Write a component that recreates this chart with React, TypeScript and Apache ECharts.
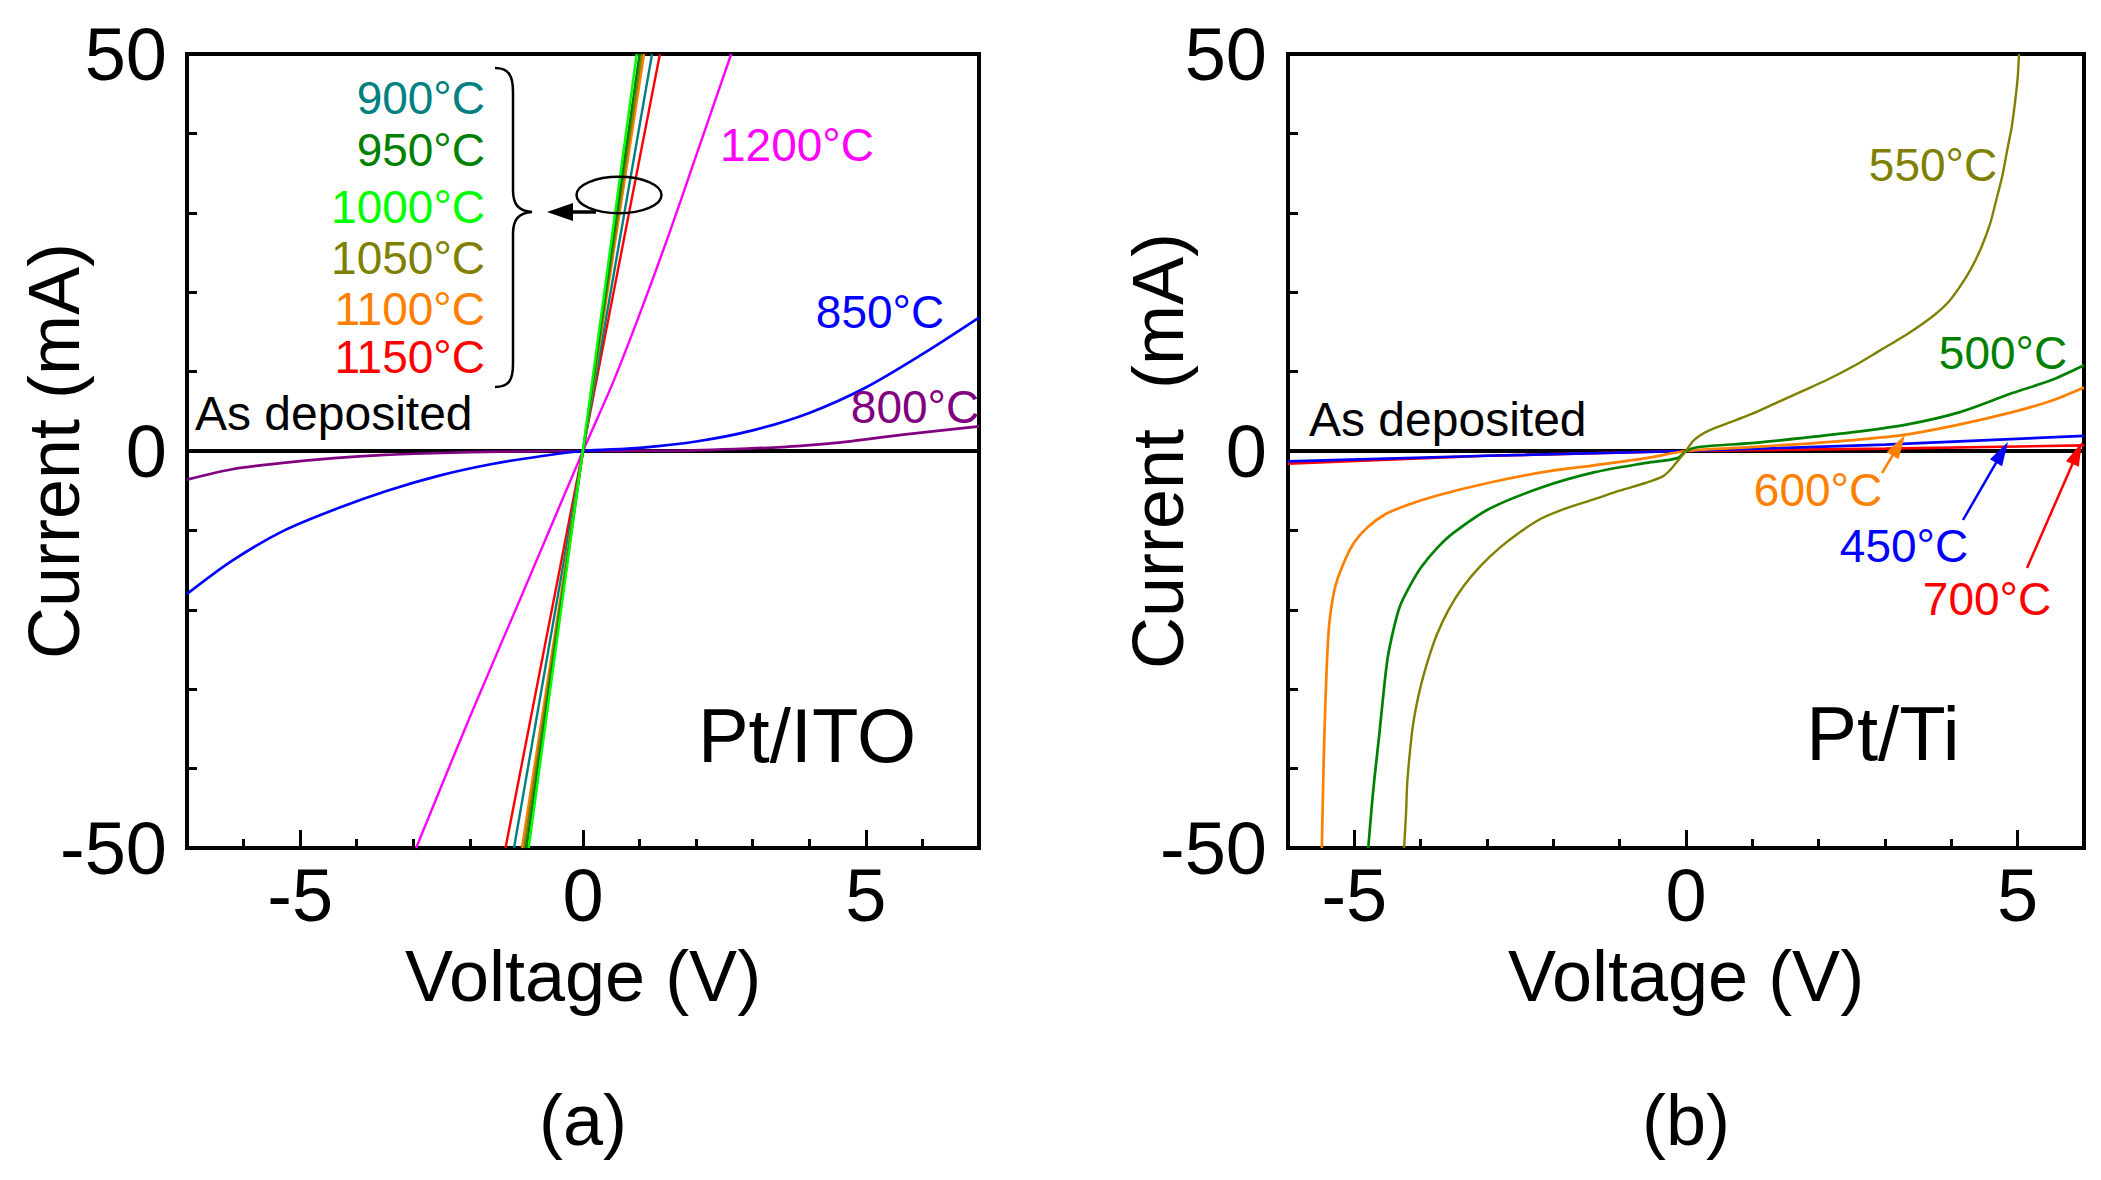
import React, { useEffect, useRef } from "react";
import * as echarts from "echarts";

// ---------- data: panel (a) Pt/ITO ----------
const xMajorTicksA = [-5, 0, 5];
const xMajorTicksB = [-5, 0, 5];
const yLabelValues = [-50, 0, 50];

const itoAsDeposited = [[-7, 0], [7, 0]];
const ito800 = [[-7, -3.6], [-6.2, -2.3], [-5.3, -1.5], [-4.4, -0.9], [-3.5, -0.5], [-2.5, -0.25], [-1.5, -0.08], [0, 0], [1.5, 0.03], [2.9, 0.3], [3.85, 0.65], [4.76, 1.25], [5.7, 2.1], [7, 3.1]];
const ito850 = [[-7, -18.0], [-6.2, -13.8], [-5.28, -10.0], [-4.37, -7.3], [-3.46, -5.0], [-2.54, -3.1], [-1.63, -1.67], [-0.72, -0.63], [0, 0], [1, 0.4], [2, 1.2], [3, 2.6], [4, 4.8], [5, 8.0], [6, 12.2], [7, 16.8]];
const ito900 = [[-1.22, -50], [1.22, 50]];
const ito950 = [[-1.0, -50], [1.0, 50]];
const ito1000 = [[-0.96, -50], [0.95, 50]];
const ito1050 = [[-1.04, -50], [1.04, 50]];
const ito1100 = [[-1.08, -50], [1.08, 50]];
const ito1150 = [[-1.37, -50], [1.36, 50]];
const ito1200 = [[-2.95, -50], [-2, -33.5], [-1, -16.8], [0, 0], [0.54, 8.8], [1, 17.2], [1.5, 26.9], [2, 37.2], [2.62, 50]];

// ---------- data: panel (b) Pt/Ti ----------
const tiAsDeposited = [[-6, 0], [6, 0]];
const ti450 = [[-6, -1.3], [-3, -0.6], [0, 0], [3, 0.8], [6, 1.9]];
const ti700 = [[-6, -1.6], [-3, -0.6], [0, 0], [3, 0.3], [6, 0.7]];
const ti500 = [[-4.79, -50], [-4.74, -45], [-4.7, -41.5], [-4.62, -35.4], [-4.56, -30.5], [-4.5, -26.2], [-4.41, -22.5], [-4.31, -19.5], [-4.15, -16.8], [-3.99, -14.6], [-3.75, -12.2], [-3.52, -10.4], [-2.97, -7.3], [-2.18, -4.6], [-1.39, -2.7], [-0.6, -1.5], [-0.13, -0.9], [0, 0], [0.19, 0.5], [0.98, 1.0], [1.77, 1.65], [2.56, 2.4], [3.34, 3.35], [4.13, 4.9], [4.92, 7.3], [5.5, 8.9], [6, 10.8]];
const ti550 = [[-4.25, -50], [-4.22, -45.5], [-4.2, -41.5], [-4.13, -35.4], [-4.07, -32.3], [-3.99, -29.3], [-3.88, -26.1], [-3.76, -23.2], [-3.58, -20], [-3.36, -17.1], [-3.1, -14.5], [-2.81, -12.2], [-2.5, -10.2], [-2.18, -8.5], [-1.8, -7.2], [-1.39, -6.1], [-1, -5.0], [-0.6, -4.0], [-0.35, -3.2], [-0.24, -2.4], [-0.12, -1.2], [0, 0], [0.1, 1.2], [0.2, 1.9], [0.35, 2.6], [0.58, 3.35], [1.0, 4.7], [1.37, 6.1], [1.77, 7.6], [2.16, 9.1], [2.55, 10.8], [2.95, 12.8], [3.35, 14.8], [3.74, 17.1], [3.95, 18.7], [4.13, 20.7], [4.3, 23], [4.45, 25.6], [4.58, 28.5], [4.68, 31.7], [4.77, 34.7], [4.84, 37.8], [4.91, 40.8], [4.96, 43.9], [5.0, 47], [5.02, 50]];
const ti600 = [[-5.49, -50], [-5.47, -42], [-5.45, -35.4], [-5.42, -28], [-5.38, -22], [-5.3, -17.5], [-5.17, -14.3], [-5.0, -11.5], [-4.8, -9.6], [-4.54, -8.0], [-4.2, -6.8], [-3.75, -5.6], [-2.97, -4.0], [-2.18, -2.7], [-1.39, -1.8], [-0.6, -0.9], [0, 0], [0.98, 0.5], [1.77, 0.9], [2.56, 1.4], [3.34, 2.1], [4.13, 3.35], [4.92, 4.9], [5.5, 6.3], [6, 8.0]];

const FONT = '"Liberation Sans", Arial, sans-serif';

const BRACE_D =
  "M495,68 C509,68 513,76 513,92 L513,190 C513,204 518,211 532,212 C518,213 513,220 513,234 L513,364 C513,380 509,387 495,387";
echarts.graphic.registerShape("brace", echarts.graphic.extendPath(BRACE_D, {}) as any);

function arrow(x0: number, y0: number, x1: number, y1: number, color: string, w: number, hl: number, hw: number) {
  const dx = x1 - x0, dy = y1 - y0;
  const L = Math.hypot(dx, dy);
  const ux = dx / L, uy = dy / L;
  const bx = x1 - ux * hl, by = y1 - uy * hl;
  const px = -uy, py = ux;
  return [
    { type: "line", z: 100, shape: { x1: x0, y1: y0, x2: bx + ux * 2, y2: by + uy * 2 }, style: { stroke: color, lineWidth: w } },
    { type: "polygon", z: 100, shape: { points: [[x1, y1], [bx + px * hw, by + py * hw], [bx - px * hw, by - py * hw]] }, style: { fill: color } },
  ];
}

function label(text: string, x: number, y: number, color: string, size = 46, align = "center") {
  return {
    type: "text",
    z: 100,
    x,
    y,
    style: { text, fill: color, fontSize: size, fontFamily: FONT, align, verticalAlign: "middle" },
  };
}

function minorX(grid: number, min: number, max: number, majors: number[], name: string, gap: number) {
  return {
    gridIndex: grid,
    type: "value",
    min,
    max,
    interval: 1,
    position: "bottom",
    axisLine: { show: false, onZero: false },
    axisTick: { show: true, inside: true, length: 9, lineStyle: { color: "#000", width: 3 } },
    axisLabel: {
      formatter: (v: number) => (majors.includes(v) ? String(v) : ""),
      fontSize: 74,
      fontFamily: FONT,
      color: "#000",
      margin: 10,
    },
    splitLine: { show: false },
    name,
    nameLocation: "middle",
    nameGap: gap,
    nameMoveOverlap: false,
    nameTextStyle: { fontSize: 72, fontFamily: FONT, color: "#000" },
  };
}

function majorX(grid: number, min: number, max: number, majors: number[]) {
  return {
    gridIndex: grid,
    type: "value",
    min,
    max,
    position: "bottom",
    axisLine: { show: false, onZero: false },
    axisTick: { show: true, inside: true, length: 18, customValues: majors, lineStyle: { color: "#000", width: 3 } },
    axisLabel: { show: false },
    splitLine: { show: false },
  };
}

function yAx(grid: number, name: string, gap: number, margin: number) {
  return {
    gridIndex: grid,
    type: "value",
    min: -50,
    max: 50,
    interval: 10,
    position: "left",
    axisLine: { show: false, onZero: false },
    axisTick: { show: true, inside: true, length: 10, lineStyle: { color: "#000", width: 3 } },
    axisLabel: {
      formatter: (v: number) => (yLabelValues.includes(v) ? String(v) : ""),
      fontSize: 74,
      fontFamily: FONT,
      color: "#000",
      margin,
    },
    splitLine: { show: false },
    name,
    nameLocation: "middle",
    nameGap: gap,
    nameMoveOverlap: false,
    nameTextStyle: { fontSize: 72, fontFamily: FONT, color: "#000" },
  };
}

function line(name: string, data: number[][], color: string, xi: number, yi: number, width = 2.7, smooth: any = 0.3) {
  return {
    name,
    type: "line",
    xAxisIndex: xi,
    yAxisIndex: yi,
    data,
    symbol: "none",
    showSymbol: false,
    smooth,
    clip: true,
    silent: true,
    lineStyle: { color, width },
  };
}

export default function App() {
  const ref = useRef<HTMLDivElement>(null);
  useEffect(() => {
    if (!ref.current) return;
    const chart = echarts.init(ref.current, null, { renderer: "svg" });
    const gridCommon = { show: true, borderColor: "#000", borderWidth: 4, containLabel: false, outerBoundsMode: "none" };
    const option: any = {
      animation: false,
      backgroundColor: "#fff",
      grid: [
        { left: 187, top: 54, width: 792, height: 794, ...gridCommon },
        { left: 1288, top: 54, width: 796, height: 794, ...gridCommon },
      ],
      xAxis: [
        minorX(0, -7, 7, xMajorTicksA, "Voltage (V)", 92),
        majorX(0, -7, 7, xMajorTicksA),
        minorX(1, -6, 6, xMajorTicksB, "Voltage (V)", 92),
        majorX(1, -6, 6, xMajorTicksB),
      ],
      yAxis: [yAx(0, "Current (mA)", 97, 20), yAx(1, "Current  (mA)", 94, 21)],
      series: [
        line("As deposited (a)", itoAsDeposited, "#000", 0, 0, 4, false),
        line("800°C", ito800, "#800080", 0, 0, 2.7),
        line("850°C", ito850, "#0000FF", 0, 0, 2.7),
        line("1200°C", ito1200, "#FF00FF", 0, 0, 2.4),
        line("1150°C", ito1150, "#FF0000", 0, 0, 2.4, false),
        line("900°C", ito900, "#008080", 0, 0, 2.4, false),
        line("1100°C", ito1100, "#FF8000", 0, 0, 2.4, false),
        line("1050°C", ito1050, "#808000", 0, 0, 2.4, false),
        line("950°C", ito950, "#008000", 0, 0, 2.4, false),
        line("1000°C", ito1000, "#00FF00", 0, 0, 2.4, false),

        line("As deposited (b)", tiAsDeposited, "#000", 2, 1, 4, false),
        line("700°C", ti700, "#FF0000", 2, 1, 2.7, false),
        line("450°C", ti450, "#0000FF", 2, 1, 2.7, false),
        line("600°C", ti600, "#FF8000", 2, 1, 2.7),
        line("500°C", ti500, "#008000", 2, 1, 2.7),
        line("550°C", ti550, "#808000", 2, 1, 2.4),
      ],
      graphic: [
        label("900°C", 485, 98, "#008080", 46, "right"),
        label("950°C", 485, 150, "#008000", 46, "right"),
        label("1000°C", 485, 207, "#00FF00", 46, "right"),
        label("1050°C", 485, 258, "#808000", 46, "right"),
        label("1100°C", 485, 309, "#FF8000", 46, "right"),
        label("1150°C", 485, 357, "#FF0000", 46, "right"),
        { type: "brace", z: 100, x: 0, y: 0, style: { stroke: "#000", fill: "none", lineWidth: 2.5 } },
        ...arrow(596, 212, 547, 212, "#000", 3.5, 26, 9),
        { type: "ellipse", z: 100, shape: { cx: 619, cy: 195, rx: 42.5, ry: 18.3 }, style: { stroke: "#000", fill: "none", lineWidth: 2.5 } },
        label("1200°C", 797, 145, "#FF00FF"),
        label("850°C", 880, 312, "#0000FF"),
        label("800°C", 915, 407, "#800080"),
        label("As deposited", 195, 413, "#000", 48, "left"),
        label("Pt/ITO", 807, 735, "#000", 76),
        label("(a)", 583, 1120, "#000", 72),

        label("550°C", 1933, 165, "#808000"),
        label("500°C", 2003, 353, "#008000"),
        label("As deposited", 1309, 419, "#000", 48, "left"),
        label("600°C", 1818, 490, "#FF8000"),
        label("450°C", 1904, 546, "#0000FF"),
        label("700°C", 1987, 599, "#FF0000"),
        ...arrow(1882, 473, 1905, 435, "#FF8000", 2.5, 24, 7),
        ...arrow(1963, 520, 2008, 442, "#0000FF", 2.5, 24, 7),
        ...arrow(2027, 568, 2082, 442, "#FF0000", 2.5, 24, 7),
        label("Pt/Ti", 1883, 733, "#000", 76),
        label("(b)", 1686, 1120, "#000", 72),
      ],
    };
    chart.setOption(option);
    return () => chart.dispose();
  }, []);
  return (
    <div
      ref={ref}
      style={{ position: "fixed", left: 0, top: 0, width: 2101, height: 1180, background: "#fff" }}
    />
  );
}
